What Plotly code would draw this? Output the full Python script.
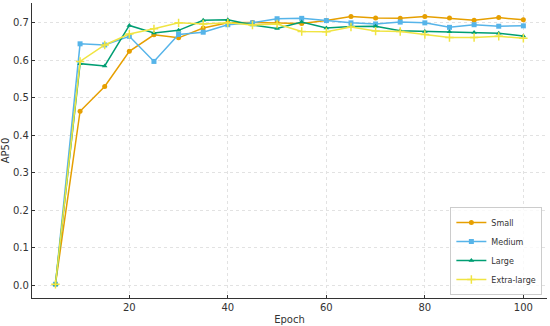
import plotly.graph_objects as go

epochs = [5, 10, 15, 20, 25, 30, 35, 40, 45, 50, 55, 60, 65, 70, 75, 80, 85, 90, 95, 100]

small = [0.002, 0.464, 0.530, 0.624, 0.668, 0.660, 0.686, 0.700, 0.701, 0.700,
         0.698, 0.706, 0.717, 0.713, 0.712, 0.717, 0.713, 0.707, 0.714, 0.708]
medium = [0.002, 0.644, 0.641, 0.664, 0.597, 0.669, 0.675, 0.695, 0.700, 0.711,
          0.712, 0.706, 0.700, 0.697, 0.702, 0.700, 0.688, 0.695, 0.691, 0.692]
large = [0.002, 0.591, 0.585, 0.693, 0.673, 0.680, 0.707, 0.708, 0.694, 0.685,
         0.702, 0.686, 0.690, 0.691, 0.679, 0.677, 0.676, 0.674, 0.672, 0.665]
extra_large = [0.002, 0.597, 0.641, 0.670, 0.684, 0.700, 0.697, 0.700, 0.694, 0.697,
               0.677, 0.676, 0.689, 0.678, 0.677, 0.669, 0.661, 0.661, 0.664, 0.659]

series_names = ["Small", "Medium", "Large", "Extra-large"]
series_values = [small, medium, large, extra_large]
colors = ["#E69F00", "#56B4E9", "#009E73", "#F0E442"]
symbols = ["circle", "square", "triangle-up", "cross-thin"]

fig = go.Figure()
for name, vals, col, sym in zip(series_names, series_values, colors, symbols):
    marker = dict(symbol=sym, size=5, color=col)
    if sym == "cross-thin":
        marker = dict(symbol=sym, size=6, color=col, line=dict(width=1.5, color=col))
    fig.add_trace(go.Scatter(x=epochs, y=vals, mode="lines+markers", name=name,
                             line=dict(color=col, width=1.5), marker=marker))

axis_common = dict(
    showgrid=True, gridcolor="#e2e2e2", griddash="dot", gridwidth=1,
    showline=True, linecolor="#333333", linewidth=1.2,
    ticks="inside", ticklen=3, tickcolor="#333333",
    tickfont=dict(family="DejaVu Sans", size=10, color="#333333"),
    zeroline=False, mirror=False, automargin=False,
)

fig.update_layout(
    width=550, height=326,
    margin=dict(l=32, r=3, t=3, b=28),
    paper_bgcolor="white", plot_bgcolor="white",
    font=dict(family="DejaVu Sans", size=10, color="#333333"),
    xaxis=dict(range=[0.24, 104.8], tickvals=[20, 40, 60, 80, 100],
               title=dict(text="Epoch", font=dict(size=10), standoff=3), **axis_common),
    yaxis=dict(range=[-0.0347, 0.753], tickvals=[0.0, 0.1, 0.2, 0.3, 0.4, 0.5, 0.6, 0.7],
               tickformat=".1f",
               title=dict(text="AP50", font=dict(size=10), standoff=7), **axis_common),
    legend=dict(x=0.991, y=0.01, xanchor="right", yanchor="bottom",
                bgcolor="rgba(255,255,255,0.8)", bordercolor="#cccccc", borderwidth=1,
                font=dict(size=8), itemwidth=30, tracegroupgap=0),
    showlegend=True,
)

fig.write_html("out.html", config={"displayModeBar": False},
               post_script="document.body.style.margin='0';")
